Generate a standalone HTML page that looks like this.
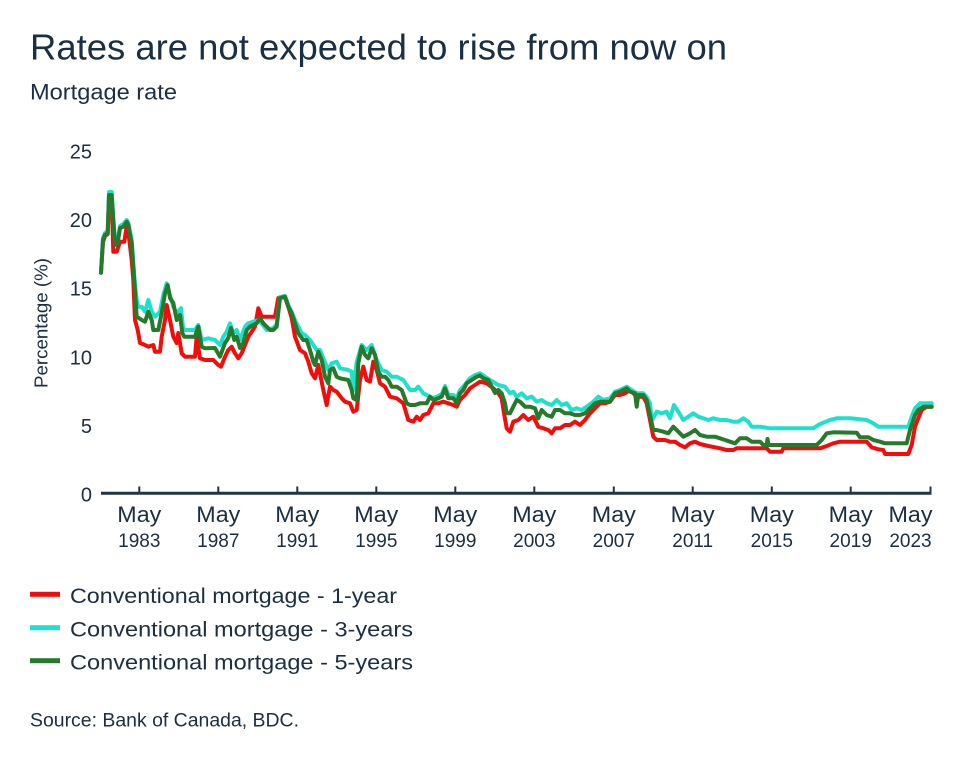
<!DOCTYPE html>
<html>
<head>
<meta charset="utf-8">
<style>
html,body{margin:0;padding:0;background:#fff;}
svg{display:block;}
text{font-family:"Liberation Sans",Arial,sans-serif;fill:#1b2f40;}
</style>
</head>
<body>
<svg width="960" height="762" viewBox="0 0 960 762" xmlns="http://www.w3.org/2000/svg">
<rect width="960" height="762" fill="#fff"/>
<text x="30" y="59.5" font-size="36" textLength="697" lengthAdjust="spacingAndGlyphs">Rates are not expected to rise from now on</text>
<text x="30" y="99.5" font-size="22" textLength="147" lengthAdjust="spacingAndGlyphs">Mortgage rate</text>

<!-- Y tick labels -->
<g font-size="20" text-anchor="end">
<text x="92" y="158.3">25</text>
<text x="92" y="227">20</text>
<text x="92" y="295.7">15</text>
<text x="92" y="364.4">10</text>
<text x="92" y="433">5</text>
<text x="92" y="501.7">0</text>
</g>
<text transform="translate(47.5,323) rotate(-90)" font-size="18" text-anchor="middle" textLength="130" lengthAdjust="spacingAndGlyphs">Percentage (%)</text>

<!-- series -->
<g fill="none" stroke-width="4" stroke-linejoin="round" stroke-linecap="round">
<polyline stroke="#f20d0d" points="101,272.7 103,242 105,236 107.7,234 109,200 111.7,200 113.3,251.7 116.7,251.7 120,241.7 124.3,241.7 126.7,226.7 128.3,232 131.7,260 133.3,280 135,320 137.7,330 140,343 145,345 148.3,346.7 153.3,345 155,351.7 160,351.7 161.7,336.7 165,320 166.7,305 170,320 173.3,336.7 176.7,343 178.3,333 181.7,353.3 185,356.7 195,356.7 196.7,336.7 200,358.3 205,360 213.3,360 218.3,365 221,366.7 225,356.7 228.3,350 231.7,346.7 235,353.3 238.3,358.3 241.7,353.3 245,345 248.3,336.7 251.7,331.7 255,326.7 258.3,308.3 261.7,316.7 275,316.7 278.3,298 285,296.7 288.3,306.7 291.7,318 295,336.7 300,350 305,353.3 308.3,361.7 311.7,373.3 315,378.3 318.3,365 323.3,390 326.7,405 330,386.7 333.3,390 336.7,391.7 341.7,398.3 345,401.7 350,403.3 353.3,411.7 356.7,410 360,380 363.3,366.7 366.7,380 370,381.7 373.3,361.7 376.7,370 380,383.3 385,386.7 390,396.7 396.7,398.3 403.3,403.3 408.3,420 413.3,421.7 416.7,416.7 420,420 423.3,415 428.3,413.3 433.3,403.3 438.3,403.3 443.3,401.7 448.3,403.3 453.3,405 456.7,406.7 460,400 465,395 470,388.3 475,385 480,381.7 486.7,383.3 493.3,388.3 498.3,393.3 501.7,398.3 504,413.3 506.7,428.3 510,431.7 513.3,421.7 518.3,420 523.3,415 528.3,420 533.3,416.7 538.3,426.7 543.3,428.3 548.3,430 551.7,433.3 555,428.3 560,428.3 565,425 570,425 575,421.7 580,425 585,420 590,413.3 595,408.3 600,403.3 605,403.3 610,401.7 615,395 620,395 625,393.3 630,390 635,395 638.3,396.7 643.3,396.7 646.7,403.3 650,420 653.3,436.7 656.7,440 665,440 670,441.7 675,441.7 680,445 685,447.3 690,443.3 695,441.7 700,444 708.3,446 715,447.3 720,448.3 726.7,450 733.3,450 736.7,448.3 766.7,448.3 770,451.7 781.7,451.7 783.3,448.3 820,448.3 826.7,446 833.3,443.3 840,441.7 866.7,441.7 871.7,447.3 878.3,449.3 883.3,450 885,454 908.3,454 911.7,445 915,426.7 918.3,418.3 921.7,410 926.7,406.7 931.7,406.7"/>
<polyline stroke="#1ee0cc" points="101,272.7 103,238 105,233 107.7,231 109,192 111.7,192 113.3,218 115,240 117.7,240 120,226 123.3,224 126.7,220 128.3,223 131.7,240 133.3,262 135,285 136.7,300 138.3,306.7 141.7,306.7 145,311.7 148.3,300 151.7,311.7 155,316.7 160,311.7 163.3,295 166.7,283.3 170,295 173.3,306.7 176.7,313.3 181,308.3 183.3,330 195,330 198.3,325 201.7,340 208.3,338.3 215,340 220,345 223.3,336.7 226.7,331.7 230,323.3 233.3,333.3 236.7,330 240,340 245,326.7 248.3,323.3 253.3,321.7 258.3,320 261.7,323.3 266.7,330 273.3,328 276.7,324 280,297 285,296 288.3,305 291.7,312 295,320 301.7,333.3 305,335 310,340 316.7,350 320,350 323.3,358.3 328.3,370 331.7,363.3 336.7,361.7 340,368.3 348.3,370 351.7,371.7 353.3,390 356.7,361.7 361.7,345 366.7,350 371.7,345 376.7,360 381.7,370 386.7,371.7 391.7,376.7 396.7,376.7 403.3,380 410,390 415,390 418.3,386.7 423.3,393.3 430,396.7 433.3,398 438.3,396 441.7,394 445,386 448.3,395 453.3,395 456.7,398 460,390 463.3,386.7 470,378.3 475,375 480,373.3 490,380 498.3,385 505,386.7 510,393.3 513.3,391.7 516.7,396.7 521.7,393.3 526.7,398.3 531.7,396.7 536.7,401.7 541.7,400 546.7,403.3 551.7,405 556.7,400 561.7,405 566.7,403.3 571.7,410 576.7,408.3 581.7,410 586.7,406.7 593.3,401.7 598.3,396.7 603.3,400 610,398.3 615,391.7 620,390 626.7,386.7 631.7,390 636.7,393.3 643.3,393.3 646.7,397 650,403.3 651.7,420 653.3,418.3 656.7,411.7 661.7,413.3 666.7,411.7 670,418.3 674,405 678.3,411.7 683.3,420 688.3,416.7 693.3,413.3 698.3,416.7 703.3,418.3 708.3,420 713.3,418.3 720,420 726.7,420 733.3,421.7 738.3,421.7 743.3,418.3 748.3,421.7 751.7,426.7 760,426.7 770,428.3 813.3,428.3 818.3,425 823.3,422.7 830,420 836.7,418.3 850,418.3 860,419.3 866.7,420 873.3,423.3 878.3,426.7 908.3,426.7 911.7,416.7 915,408.3 920,403.3 931.7,403.3"/>
<polyline stroke="#257a2c" points="101,272.7 103,240 105,235 107.7,233 109,195 111.7,195 113.3,220 115,245 117.7,243 120,228 123.3,226.7 126.7,221.7 128.3,225 131.7,243 133.3,266.7 135,290 136.7,316.7 141.7,320 145,321.7 148.3,311.7 151.7,320 153.3,330 158.3,330 161.7,313 165,293.3 167.7,285 170,298 173.3,303 176.7,320 180,315 182.3,333 184.3,336.7 195,336.7 198.3,326.7 201.7,346.7 205,348.3 215,348 220,356.7 225,343 228.3,338 231,328 234.3,340 236.7,336.7 240,348 243.3,343 246.7,330 250,326.7 253.3,325 256.7,323.3 260,318 263.3,323.3 266.7,326.7 270,330 273.3,330 276.7,326.7 280,298 285,296.7 288.3,306.7 291.7,313.3 295,323.3 298.3,333.3 303.3,340 306.7,340 310,350 313.3,361.7 315,365 318.3,351.7 321.7,360 325,376.7 328.3,383.3 330,370 333.3,368.3 336.7,376.7 340,378.3 348.3,380 351.7,390 353.3,398.3 356.7,400 358.3,363.3 361.7,346.7 365,355 368.3,358.3 371.7,348.3 375,355 378.3,371.7 381.7,376.7 385,376.7 388.3,380 391.7,386.7 396.7,386.7 401.7,390 406.7,403.3 410,405 415,405 420,403.3 426.7,403.3 430,396.7 433.3,400 438.3,398.3 441.7,396.7 445,388.3 448.3,398.3 453.3,398.3 456.7,403.3 460,393.3 463.3,390 466.7,383.3 471.7,380 476.7,376.7 480,375.5 483.3,378.3 488.3,380 491.7,386.7 495,393 498.3,390 501.7,393.3 505,403.3 506.7,413.3 510,413.3 513.3,406.7 516.7,400 520,401.7 525,406.7 530,406.7 535,408.3 538.3,418.3 541.7,410 546.7,415 551.7,416.7 555,410 560,410 565,413.3 570,413.3 575,415 580,415 585,413.3 590,408.3 595,403.3 600,401.7 610,401.7 615,393.3 620,391.7 626.7,388.3 630,391.7 635,393.3 636.7,406.7 638.3,395 643.3,395 646.7,400 650,415 653.3,430 656.7,430 663.3,431.7 668.3,433.3 673.3,426.7 678.3,431.7 683.3,436.7 690,433.3 695,430 700,435 706.7,436.7 715,436.7 720,438.3 725,440 730,441.7 735,443.3 740,438.3 746.7,438.3 751.7,441.7 760,441.7 763.3,445 766.7,445 767.5,439 768.5,445 773.3,445 816.7,445 821.7,440 826.7,433.3 833.3,432.3 856.7,432.7 860,437.3 868.3,437.3 873.3,440 880,441.7 885,443.3 906.7,443.3 910,430 915,415 918.3,410 923.3,406.7 931.7,406.7"/>
</g>

<!-- axis -->
<line x1="101" y1="493.3" x2="931.5" y2="493.3" stroke="#1f3445" stroke-width="3"/>
<g stroke="#1f3445" stroke-width="2">
<line x1="139.3" y1="486.5" x2="139.3" y2="493"/>
<line x1="218.3" y1="486.5" x2="218.3" y2="493"/>
<line x1="297.3" y1="486.5" x2="297.3" y2="493"/>
<line x1="376.3" y1="486.5" x2="376.3" y2="493"/>
<line x1="455.3" y1="486.5" x2="455.3" y2="493"/>
<line x1="534.3" y1="486.5" x2="534.3" y2="493"/>
<line x1="613.8" y1="486.5" x2="613.8" y2="493"/>
<line x1="692.7" y1="486.5" x2="692.7" y2="493"/>
<line x1="771.8" y1="486.5" x2="771.8" y2="493"/>
<line x1="850.7" y1="486.5" x2="850.7" y2="493"/>
<line x1="930.5" y1="486.5" x2="930.5" y2="493"/>
</g>

<!-- x labels -->
<g text-anchor="middle">
<g font-size="22">
<text x="139.3" y="522" textLength="44" lengthAdjust="spacingAndGlyphs">May</text>
<text x="218.3" y="522" textLength="44" lengthAdjust="spacingAndGlyphs">May</text>
<text x="297.3" y="522" textLength="44" lengthAdjust="spacingAndGlyphs">May</text>
<text x="376.3" y="522" textLength="44" lengthAdjust="spacingAndGlyphs">May</text>
<text x="455.3" y="522" textLength="44" lengthAdjust="spacingAndGlyphs">May</text>
<text x="534.3" y="522" textLength="44" lengthAdjust="spacingAndGlyphs">May</text>
<text x="613.8" y="522" textLength="44" lengthAdjust="spacingAndGlyphs">May</text>
<text x="692.7" y="522" textLength="44" lengthAdjust="spacingAndGlyphs">May</text>
<text x="771.8" y="522" textLength="44" lengthAdjust="spacingAndGlyphs">May</text>
<text x="850.7" y="522" textLength="44" lengthAdjust="spacingAndGlyphs">May</text>
<text x="910.5" y="522" textLength="44" lengthAdjust="spacingAndGlyphs">May</text>
</g>
<g font-size="19">
<text x="139.3" y="547">1983</text>
<text x="218.3" y="547">1987</text>
<text x="297.3" y="547">1991</text>
<text x="376.3" y="547">1995</text>
<text x="455.3" y="547">1999</text>
<text x="534.3" y="547">2003</text>
<text x="613.8" y="547">2007</text>
<text x="692.7" y="547">2011</text>
<text x="771.8" y="547">2015</text>
<text x="850.7" y="547">2019</text>
<text x="910.5" y="547">2023</text>
</g>
</g>

<!-- legend -->
<rect x="30" y="591.8" width="30" height="5" fill="#f20d0d"/>
<rect x="30" y="625.2" width="30" height="5" fill="#1ee0cc"/>
<rect x="30" y="658.2" width="30" height="5" fill="#257a2c"/>
<g font-size="21">
<text x="70" y="603" textLength="327" lengthAdjust="spacingAndGlyphs">Conventional mortgage - 1-year</text>
<text x="70" y="636.5" textLength="343" lengthAdjust="spacingAndGlyphs">Conventional mortgage - 3-years</text>
<text x="70" y="669.5" textLength="343" lengthAdjust="spacingAndGlyphs">Conventional mortgage - 5-years</text>
</g>
<text x="30" y="726.7" font-size="19" textLength="269" lengthAdjust="spacingAndGlyphs">Source: Bank of Canada, BDC.</text>
</svg>
</body>
</html>
